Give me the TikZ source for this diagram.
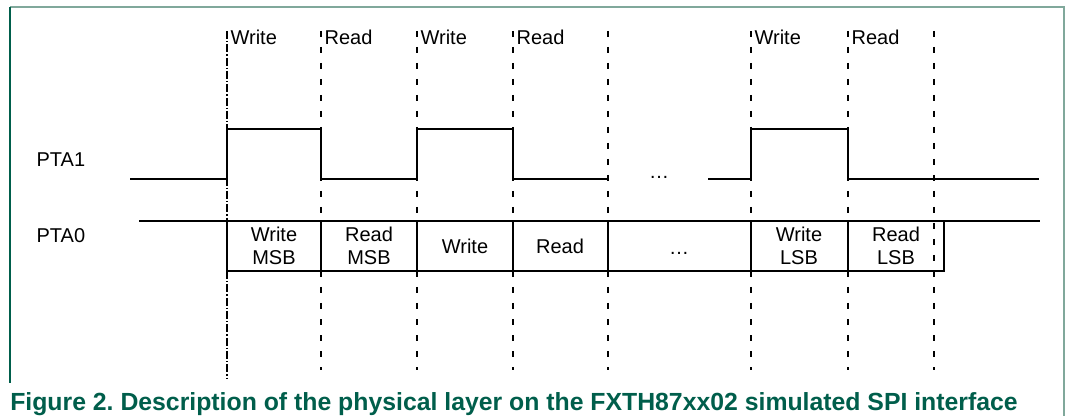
\documentclass[tikz,border=0pt]{standalone}
\usepackage{fontspec}
\setmainfont{Liberation Sans}
\frenchspacing
\definecolor{capgreen}{RGB}{0,94,75}
\definecolor{framegreen}{RGB}{128,168,155}
\tikzset{
  signal/.style={line width=1.3pt},
  gridline/.style={line width=2.2pt, dash pattern=on 4.5pt off 7.5pt},
  firstline/.style={line width=1.8pt, dash pattern=on 6pt off 1.5pt on 1pt off 1.5pt},
  toplabel/.style={anchor=west, font=\fontsize{15}{17}\selectfont, inner sep=1pt},
  cell/.style={align=center, font=\fontsize{15}{17}\selectfont},
}
\begin{document}
\begin{tikzpicture}[x=0.75pt,y=-0.75pt]
  \useasboundingbox (0,0) rectangle (1066,416);
  % frame
  \draw[framegreen, line width=1.2pt] (10,7) -- (1064,7) -- (1064,416);
  \draw[capgreen, line width=1.2pt] (10,7) -- (10,383);
  % time markers
  \draw[firstline] (227,31) -- (227,379);
  \foreach \x in {321,417,513,608,751,848,934}
    {
      \draw[gridline] (\x,31) -- (\x,370);
    }
  \node[toplabel] (w1) at (229,37) {Write};
  \node[toplabel] (r1) at (323,37) {Read};
  \node[toplabel] (w2) at (419,37) {Write};
  \node[toplabel] (r2) at (515,37) {Read};
  \node[toplabel] (w3) at (753,37) {Write};
  \node[toplabel] (r3) at (850,37) {Read};
  % PTA1
  \node[toplabel] (pta1) at (35,160) {PTA1};
  \draw[signal] (130,179) -- (227,179) -- (227,129) -- (321,129) -- (321,179)
    -- (417,179) -- (417,129) -- (513,129) -- (513,179) -- (608,179);
  \draw[signal] (708,179) -- (751,179) -- (751,129) -- (848,129) -- (848,179) -- (1039,179);
  \node[cell] (gap1) at (659,177) {…};
  % PTA0
  \node[toplabel] (pta0) at (35,236) {PTA0};
  \draw[signal] (139,221) -- (1040,221);
  \draw[signal] (227,221) rectangle (944,271);
  \foreach \x in {321,417,513,608,751,848}
    {
      \draw[signal] (\x,221) -- (\x,271);
    }
  \node[cell] (wmsb) at (274,246) {Write\\MSB};
  \node[cell] (rmsb) at (369,246) {Read\\MSB};
  \node[cell] (wr) at (465,246) {Write};
  \node[cell] (rd) at (560,246) {Read};
  \node[cell] (gap0) at (679,253) {…};
  \node[cell] (wlsb) at (799,246) {Write\\LSB};
  \node[cell] (rlsb) at (896,246) {Read\\LSB};
  % caption
  \node[anchor=base west, inner sep=0pt, text=capgreen, font=\fontsize{18.6}{21}\selectfont\bfseries] (cap) at (10,410)
    {Figure 2. Description of the physical layer on the FXTH87xx02 simulated SPI interface};
\end{tikzpicture}
\end{document}
